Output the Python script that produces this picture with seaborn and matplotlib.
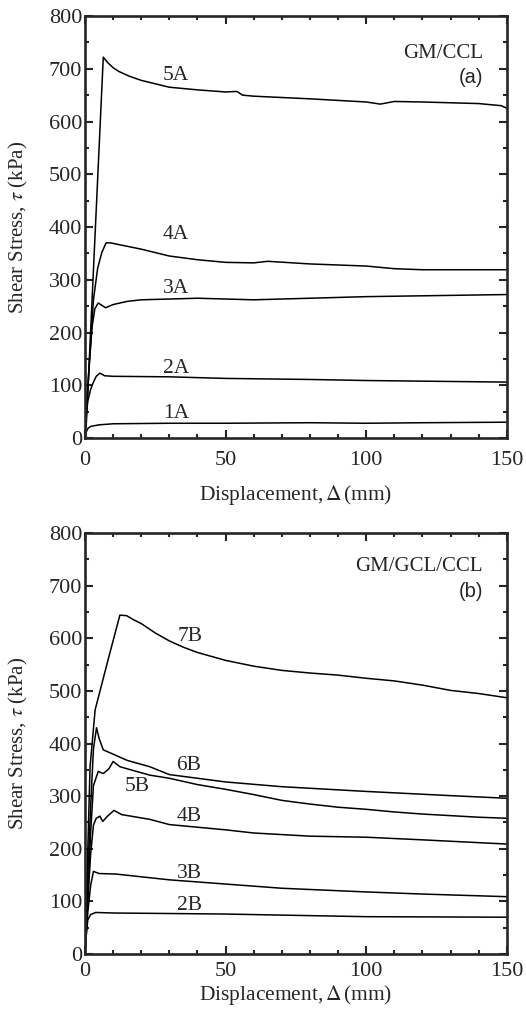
import numpy as np
import pandas as pd
import matplotlib
matplotlib.use("Agg")
import matplotlib.pyplot as plt
import seaborn as sns

# ---------------- data ----------------
x1A = [0, 0.5, 1, 2, 5, 10, 30, 50, 80, 100, 120, 150]
y1A = [0, 12, 18, 22, 25, 27, 28, 28, 29, 28, 29, 30]

x2A = [0, 0.5, 1, 2, 3, 4, 5.3, 7, 10, 30, 50, 80, 100, 150]
y2A = [0, 45, 70, 92, 106, 117, 123, 118, 117, 116, 113, 111, 109, 106]

x3A = [0, 0.5, 1.5, 2.5, 3.5, 4.7, 7.3, 10, 15, 20, 40, 60, 80, 100, 125, 150]
y3A = [0, 50, 140, 210, 245, 256, 247, 253, 259, 262, 265, 262, 265, 268, 270, 272]

x4A = [0, 0.5, 3, 4.5, 6, 7.5, 9, 20, 30, 40, 50, 60, 65, 80, 100, 110, 120, 150]
y4A = [0, 50, 262, 322, 352, 370, 370, 358, 345, 338, 333, 332, 335, 330, 326, 321, 319, 319]

x5A = [0, 0.5, 6.5, 8, 10, 12, 15.7, 20, 30, 40, 50, 54, 56, 60, 80, 100, 105, 110, 120, 140, 148, 150]
y5A = [0, 30, 722, 712, 702, 695, 686, 678, 665, 660, 656, 657, 650, 648, 643, 637, 633, 638, 637, 634, 630, 625]

x2B = [0, 0.5, 1, 2, 3.8, 10, 50, 100, 150]
y2B = [0, 40, 65, 75, 79, 78, 76, 71, 70]

x3B = [0, 1, 2, 3, 5, 11, 30, 50, 70, 100, 120, 150]
y3B = [0, 80, 130, 157, 153, 152, 141, 133, 125, 118, 114, 109]

x4B = [0, 1, 2, 3, 4, 5.3, 6.3, 8, 10.3, 13, 23, 30, 50, 60, 80, 100, 120, 150]
y4B = [0, 100, 190, 245, 258, 262, 252, 262, 273, 265, 256, 246, 236, 230, 224, 222, 217, 209]

x5B = [0, 1, 2, 3, 4.7, 6.5, 8.5, 10, 12.4, 15, 23, 30, 40, 50, 60, 70, 80, 90, 100, 110, 120, 130, 140, 150]
y5B = [0, 110, 230, 320, 347, 343, 352, 366, 356, 352, 340, 334, 322, 313, 303, 292, 285, 279, 275, 270, 266, 263, 260, 258]

x6B = [0, 1, 2, 3, 4.1, 5, 6.5, 9.5, 15, 23, 30, 50, 70, 100, 130, 150]
y6B = [0, 150, 280, 390, 430, 410, 388, 381, 368, 356, 341, 327, 318, 309, 301, 296]

x7B = [0, 1, 1.8, 3.6, 8, 12.4, 14.8, 17, 20, 25, 30, 35, 40, 50, 60, 70, 80, 90, 100, 110, 120, 130, 140, 150]
y7B = [0, 200, 356, 464, 555, 644, 643, 636, 628, 610, 595, 583, 573, 558, 547, 539, 534, 530, 524, 519, 511, 501, 495, 487]

series_a = {"1A": (x1A, y1A), "2A": (x2A, y2A), "3A": (x3A, y3A), "4A": (x4A, y4A), "5A": (x5A, y5A)}
series_b = {"2B": (x2B, y2B), "3B": (x3B, y3B), "4B": (x4B, y4B), "5B": (x5B, y5B), "6B": (x6B, y6B), "7B": (x7B, y7B)}

labels_a = {"5A": (32.3, 688), "4A": (32.3, 385), "3A": (32.3, 284), "2A": (32.3, 132), "1A": (32.3, 47)}
labels_b = {"7B": (37.3, 603), "6B": (37, 359), "5B": (18.5, 318), "4B": (37, 261), "3B": (37, 153), "2B": (37, 93)}

x_ticks = [0, 50, 100, 150]
y_ticks = [0, 100, 200, 300, 400, 500, 600, 700, 800]

# ---------------- style ----------------
sns.set_style("ticks")
plt.rcParams["font.family"] = ["Liberation Serif", "DejaVu Serif"]
plt.rcParams["mathtext.fontset"] = "stix"

fig = plt.figure(figsize=(5.26, 10.13), dpi=100)
ax_a = fig.add_axes([0.1616, 0.5676, 0.802, 0.4166])
ax_b = fig.add_axes([0.1616, 0.0582, 0.802, 0.4156])


def build_df(series):
    rows = []
    for name, (xs, ys) in series.items():
        for xv, yv in zip(xs, ys):
            rows.append({"test": name, "disp": xv, "tau": yv})
    return pd.DataFrame(rows)


def style_axes(ax, xpad, xlab_y):
    ax.set_xlim(0, 150)
    ax.set_ylim(0, 800)
    ax.set_xticks(x_ticks)
    ax.set_yticks(y_ticks)
    ax.set_xticks(np.arange(0, 151, 10), minor=True)
    ax.set_yticks(np.arange(0, 801, 50), minor=True)
    ax.tick_params(which="both", direction="in", top=True, right=True,
                   labelsize=16, width=1.5)
    ax.tick_params(which="major", length=6)
    ax.tick_params(which="minor", length=3.2)
    ax.tick_params(axis="x", which="both", pad=xpad)
    ax.tick_params(axis="y", which="both", pad=2)
    for sp in ax.spines.values():
        sp.set_linewidth(1.9)
    ax.set_xlabel(r"Displacement,$\,\Delta\,$(mm)", fontsize=15.5)
    ax.set_ylabel(r"Shear Stress, $\tau$ (kPa)", fontsize=15)
    ax.xaxis.set_label_coords(0.5, xlab_y)
    ax.yaxis.set_label_coords(-0.13, 0.5)


for ax, series, labels, title, sub, xpad, xlab_y in [
    (ax_a, series_a, labels_a, "GM/CCL", "(a)", 9, -0.106),
    (ax_b, series_b, labels_b, "GM/GCL/CCL", "(b)", 6, -0.068),
]:
    df = build_df(series)
    for name in series:
        sub_df = df[df["test"] == name]
        sns.lineplot(data=sub_df, x="disp", y="tau", ax=ax, color="black",
                     linewidth=1.1, sort=False, estimator=None)
    for name, (lx, ly) in labels.items():
        ax.text(lx, ly, name, ha="center", va="center", fontsize=15.5)
    ax.text(141.5, 736 if sub == "(b)" else 729, title, ha="right", va="center", fontsize=15)
    ax.text(141.5, 689 if sub == "(b)" else 684, sub, ha="right", va="center", fontsize=14.5,
            family=["Liberation Sans", "DejaVu Sans"])
    style_axes(ax, xpad, xlab_y)

fig.savefig("out.png", dpi=100)
